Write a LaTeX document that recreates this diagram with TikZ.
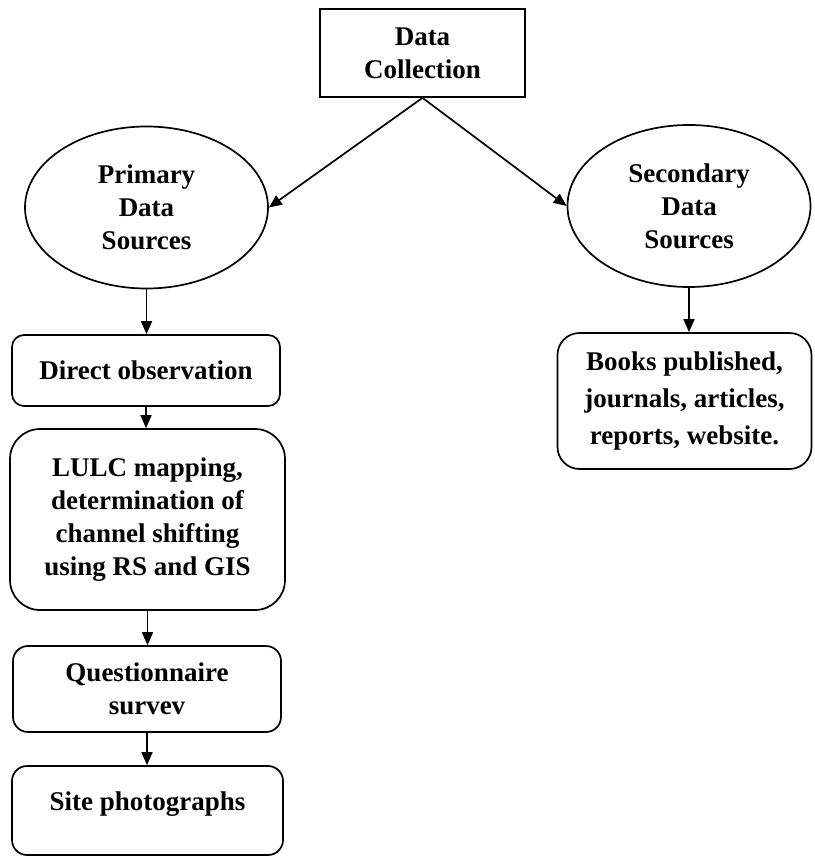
\documentclass[tikz,border=0pt]{standalone}
\usepackage{fontspec}
\setmainfont{Liberation Serif}
\usetikzlibrary{arrows.meta,shapes.geometric}
\begin{document}
\begin{tikzpicture}[x=1pt,y=-1pt,
  every node/.style={font=\bfseries\fontsize{27}{33}\selectfont, align=center, inner sep=0pt, line width=1.7pt},
  rectbox/.style={draw, rectangle},
  oval/.style={draw, ellipse, minimum width=243pt, minimum height=162pt},
  rbox/.style={draw, rectangle, rounded corners=#1},
  conn/.style={line width=1.7pt, -{Triangle[length=13pt,width=11pt]}}
]
\useasboundingbox (0,0) rectangle (814,856);
\node[rectbox, minimum width=205pt, minimum height=88pt] (dc) at (422.5,53) {Data\\Collection};
\node[oval] (pri) at (146.5,207.5) {Primary\\Data\\Sources};
\node[oval] (sec) at (689,206) {Secondary\\Data\\Sources};
\node[rbox=12pt, minimum width=268pt, minimum height=71pt] (dir) at (146,370.5) {Direct observation};
\node[rbox=30pt, minimum width=275pt, minimum height=181pt] (lulc) at (147.5,519.5) {LULC mapping,\\determination of\\channel shifting\\using RS and GIS};
\node[rbox=15pt, minimum width=268pt, minimum height=86pt] (que) at (147,689) {Questionnaire\\survev};
\node[rbox=15pt, minimum width=271pt, minimum height=89pt, text depth=18pt] (site) at (147.5,810.5) {Site photographs};
\node[rbox=22pt, minimum width=254pt, minimum height=136pt, font=\bfseries\fontsize{27}{37}\selectfont] (books) at (684.5,401) {Books published,\\journals, articles,\\reports, website.};
\draw[conn] (dc.south) -- (pri.east);
\draw[conn] (dc.south) -- (sec.west);
\draw[conn] (pri.south) -- (pri.south |- dir.north);
\draw[conn] (sec.south) -- (sec.south |- books.north);
\draw[conn] (dir.south) -- (dir.south |- lulc.north);
\draw[conn] (lulc.south) -- (lulc.south |- que.north);
\draw[conn] (que.south) -- (que.south |- site.north);
\end{tikzpicture}
\end{document}
